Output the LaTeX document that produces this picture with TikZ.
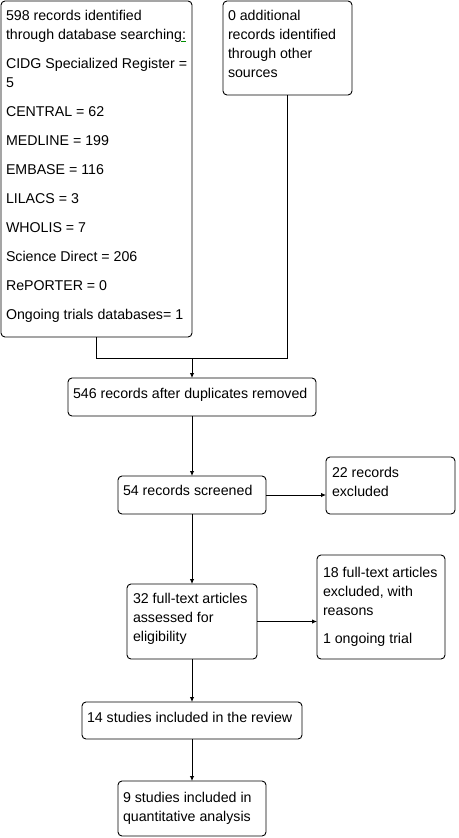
\documentclass[tikz,border=0pt]{standalone}
\usepackage{fontspec}
\setmainfont{Liberation Sans}
\usetikzlibrary{arrows.meta}
\definecolor{spellgreen}{RGB}{0,140,0}
\tikzset{
  box/.style={draw, rounded corners=4pt, line width=0.9pt, inner sep=0pt, outer sep=0pt},
  txt/.style={anchor=north west, inner sep=0pt, outer sep=0pt, align=left, font=\fontsize{14.2}{19}\selectfont},
  arr/.style={-{Latex[length=5pt,width=4.5pt]}, line width=0.9pt},
  ln/.style={line width=0.9pt}
}
\begin{document}
\begin{tikzpicture}[x=1pt,y=1pt]
\useasboundingbox (0,0) rectangle (458,-838);
% boxes
\node[box, minimum width=191pt, minimum height=336pt] (A) at (96.5,-169) {};
\node[box, minimum width=129pt, minimum height=94pt] (B) at (287.5,-48) {};
\node[box, minimum width=248pt, minimum height=38pt] (C) at (192,-397) {};
\node[box, minimum width=148pt, minimum height=38pt] (D) at (192,-495) {};
\node[box, minimum width=129pt, minimum height=57pt] (E) at (390.5,-485.5) {};
\node[box, minimum width=130pt, minimum height=75pt] (F) at (192,-621.5) {};
\node[box, minimum width=128pt, minimum height=104pt] (G) at (381,-607) {};
\node[box, minimum width=220pt, minimum height=37pt] (H) at (192,-720.5) {};
\node[box, minimum width=148pt, minimum height=55pt] (I) at (192,-808.5) {};
% texts
\node[txt] (tA) at (6,-10) {598 records identified\\
through database searching{:}\llap{\textcolor{spellgreen}{\rule[-2.5pt]{4.5pt}{0.8pt}}}\\[10pt]
CIDG Specialized Register =\\
5\\[10pt]
CENTRAL = 62\\[10pt]
MEDLINE = 199\\[10pt]
EMBASE = 116\\[10pt]
LILACS = 3\\[10pt]
WHOLIS = 7\\[10pt]
Science Direct = 206\\[10pt]
RePORTER = 0\\[10pt]
Ongoing trials databases= 1};
\node[txt] (tB) at (228,-10) {0 additional\\ records identified\\ through other\\ sources};
\node[txt] (tC) at (73,-388) {546 records after duplicates removed};
\node[txt] (tD) at (123,-485) {54 records screened};
\node[txt] (tE) at (332,-467) {22 records\\ excluded};
\node[txt] (tF) at (133,-593) {32 full-text articles\\ assessed for\\ eligibility};
\node[txt] (tG) at (323,-567) {18 full-text articles\\ excluded, with\\ reasons\\[9pt] 1 ongoing trial};
\node[txt] (tH) at (87,-712) {14 studies included in the review};
\node[txt] (tI) at (123,-792) {9 studies included in\\ quantitative analysis};
% connectors
\coordinate (j) at (192,-358);
\draw[ln] (A.south) |- (j);
\draw[ln] (B.south) |- (j);
\draw[arr] (j) -- (C.north);
\draw[arr] (C.south) -- (D.north);
\draw[arr] (D.east) -- (D.east -| E.west);
\draw[arr] (D.south) -- (F.north);
\draw[arr] (F.east) -- (F.east -| G.west);
\draw[arr] (F.south) -- (H.north);
\draw[arr] (H.south) -- (I.north);
\end{tikzpicture}
\end{document}
